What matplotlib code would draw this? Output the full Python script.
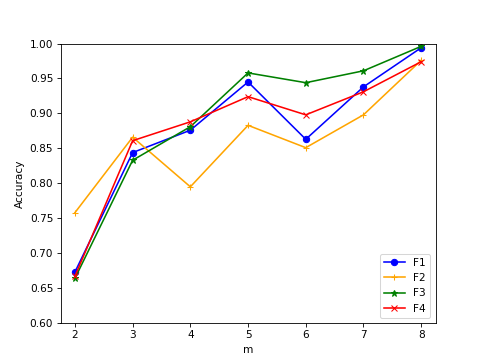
import matplotlib
matplotlib.use("Agg")
import matplotlib.pyplot as plt

m = [2, 3, 4, 5, 6, 7, 8]

f1 = [0.673, 0.844, 0.876, 0.945, 0.863, 0.938, 0.994]
f2 = [0.758, 0.866, 0.795, 0.883, 0.851, 0.898, 0.976]
f3 = [0.664, 0.833, 0.881, 0.958, 0.944, 0.961, 0.996]
f4 = [0.667, 0.861, 0.888, 0.924, 0.898, 0.931, 0.974]

plt.figure(
    figsize=(6.4, 4.8),
    dpi=75.625
)

plt.plot(m, f1, color="blue", marker="o", label="F1")
plt.plot(m, f2, color="orange", marker="+", label="F2")
plt.plot(m, f3, color="green", marker="*", label="F3")
plt.plot(m, f4, color="red", marker="x", label="F4")

plt.xlim(1.75, 8.25)
plt.ylim(0.6, 1.0)

plt.xlabel("m")
plt.ylabel("Accuracy")

plt.legend(loc="lower right")

plt.savefig("out.png")
